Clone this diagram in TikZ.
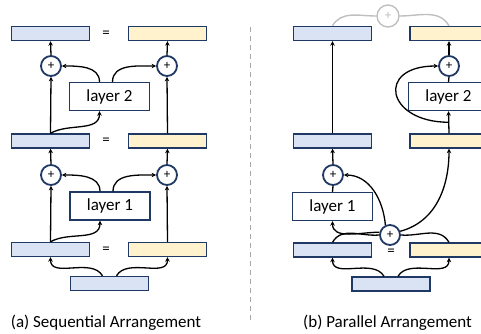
\documentclass[tikz,border=0pt]{standalone}
\usepackage{fontspec}
\setmainfont{Carlito}
\usepackage{tikz}
\usetikzlibrary{arrows.meta, calc}
\definecolor{barblue}{HTML}{DAE3F3}
\definecolor{baryellow}{HTML}{FFF2CC}
\definecolor{barnavy}{HTML}{203864}
\definecolor{ghostgray}{HTML}{BFBFBF}
\definecolor{dividergray}{HTML}{A6A6A6}
\tikzset{
    blue-bar/.style = {draw=barnavy, fill=barblue, line width=1.4pt, rectangle, minimum width=78pt, minimum height=14pt, inner sep=0pt},
    yellow-bar/.style = {blue-bar, fill=baryellow},
    layer-box/.style = {draw=barnavy, fill=white, line width=1.4pt, rectangle, minimum width=80pt, minimum height=28pt, inner sep=0pt, font=\fontsize{17}{20}\selectfont},
    sum-node/.style = {circle, draw=barnavy, fill=white, line width=1.8pt, minimum size=20pt, inner sep=0pt, font=\fontsize{13}{13}\selectfont},
    ghost-sum/.style = {sum-node, draw=ghostgray, text=ghostgray, line width=1.4pt, minimum size=22pt},
    eq-sign/.style = {inner sep=0pt, font=\fontsize{15}{15}\selectfont},
    caption/.style = {inner sep=0pt, font=\fontsize{17}{20}\selectfont},
    link/.style = {-{Stealth[length=4.5pt, width=4.5pt]}, line width=1.3pt},
    plain-link/.style = {line width=1.3pt},
    ghost-link/.style = {draw=ghostgray, line width=1.4pt},
}

\begin{document}
\begin{tikzpicture}[x=1pt, y=-1pt]
\useasboundingbox (0,0) rectangle (481,333);

% (a) sequential
\node[blue-bar] (a-top-blue) at (50.5,33.5) {};
\node[yellow-bar] (a-top-yellow) at (167.5,33.5) {};
\node[eq-sign] (a-eq-top) at (106,34) {=};
\node[sum-node] (a-sum2-l) at (51,66) {+};
\node[sum-node] (a-sum2-r) at (167,66) {+};
\node[layer-box] (a-layer2) at (109.5,96.5) {layer 2};
\node[blue-bar] (a-mid-blue) at (50.5,141) {};
\node[yellow-bar] (a-mid-yellow) at (167.5,141) {};
\node[eq-sign] (a-eq-mid) at (106,141.5) {=};
\node[sum-node] (a-sum1-l) at (51,175) {+};
\node[sum-node] (a-sum1-r) at (167,175) {+};
\node[layer-box] (a-layer1) at (110,206) {layer 1};
\node[blue-bar] (a-bot-blue) at (50.5,249.5) {};
\node[yellow-bar] (a-bot-yellow) at (167.5,249.5) {};
\node[eq-sign] (a-eq-bot) at (106,250) {=};
\node[blue-bar] (a-input) at (109.5,283.5) {};
\node[caption] (a-caption) at (106,323) {(a) Sequential Arrangement};

\draw[link] (a-mid-blue.north) -- (a-sum2-l.south);
\draw[link] (a-sum2-l.north) -- (a-top-blue.south);
\draw[link] (a-mid-yellow.north) -- (a-sum2-r.south);
\draw[link] (a-sum2-r.north) -- (a-top-yellow.south);
\draw[link] (a-mid-blue.north) to[out=30, in=-90] ([xshift=-10pt]a-layer2.south);
\draw[link] ([xshift=-10pt]a-layer2.north) to[out=90, in=0] (a-sum2-l.east);
\draw[link] ([xshift=3pt]a-layer2.north) to[out=90, in=180] (a-sum2-r.west);

\draw[link] (a-bot-blue.north) -- (a-sum1-l.south);
\draw[link] (a-sum1-l.north) -- (a-mid-blue.south);
\draw[link] (a-bot-yellow.north) -- (a-sum1-r.south);
\draw[link] (a-sum1-r.north) -- (a-mid-yellow.south);
\draw[link] (a-bot-blue.north) to[out=30, in=-90] ([xshift=-10pt]a-layer1.south);
\draw[link] ([xshift=-10pt]a-layer1.north) to[out=90, in=0] (a-sum1-l.east);
\draw[link] ([xshift=3pt]a-layer1.north) to[out=90, in=180] (a-sum1-r.west);

\draw[link] ([xshift=-7pt]a-input.north) to[out=120, in=-90] (a-bot-blue.south);
\draw[link] ([xshift=7pt]a-input.north) to[out=60, in=-90] (a-bot-yellow.south);

% divider
\draw[dividergray, line width=1pt, dash pattern=on 5pt off 4pt] (250,27) -- (250,320);

% (b) parallel
\node[blue-bar] (b-top-blue) at (332.5,33.5) {};
\node[yellow-bar] (b-top-yellow) at (449,33.5) {};
\node[ghost-sum] (b-ghost) at (388,16) {+};
\node[sum-node] (b-sum2) at (449,66) {+};
\node[layer-box] (b-layer2) at (448.5,96.5) {layer 2};
\node[blue-bar] (b-mid-blue) at (332.5,141) {};
\node[yellow-bar] (b-mid-yellow) at (449,141) {};
\node[sum-node] (b-sum1) at (333,175) {+};
\node[layer-box] (b-layer1) at (332.5,206.5) {layer 1};
\node[blue-bar] (b-bot-blue) at (332.5,250) {};
\node[yellow-bar] (b-bot-yellow) at (449,250) {};
\node[eq-sign] (b-eq) at (391,252) {=};
\node[sum-node] (b-sum0) at (390,235) {+};
\node[blue-bar] (b-input) at (391,284) {};
\node[caption] (b-caption) at (387.5,323) {(b) Parallel Arrangement};

\draw[ghost-link] (b-top-blue.north) to[out=60, in=180] (b-ghost.west);
\draw[ghost-link] (b-ghost.east) to[out=0, in=120] (b-top-yellow.north);
\draw[link] (b-mid-blue.north) -- (b-top-blue.south);
\draw[link] (b-mid-yellow.north) -- (b-layer2.south);
\draw[plain-link] (b-layer2.north) -- (b-sum2.south);
\draw[link] (b-sum2.north) -- (b-top-yellow.south);
\coordinate (b-split) at ($(b-mid-yellow.north)!0.5!(b-layer2.south)$);
\draw[link] (b-split) to[out=180, in=180, looseness=2.8] (b-sum2.west);

\draw[link] (b-sum1.north) -- (b-mid-blue.south);
\draw[plain-link] (b-layer1.north) -- (b-sum1.south);
\draw[plain-link] (b-bot-blue.north) to[out=60, in=185] (b-sum0.west);
\draw[plain-link] (b-bot-yellow.north) to[out=120, in=-5] (b-sum0.east);
\draw[link] (b-sum0.165) to[out=180, in=-90] (b-layer1.south);
\draw[link] (b-sum0.115) to[out=95, in=0] (b-sum1.east);
\draw[link] (b-sum0.20) to[out=15, in=-90] (b-mid-yellow.south);

\draw[link] ([xshift=-7pt]b-input.north) to[out=120, in=-90] (b-bot-blue.south);
\draw[link] ([xshift=7pt]b-input.north) to[out=60, in=-90] (b-bot-yellow.south);
\end{tikzpicture}
\end{document}
